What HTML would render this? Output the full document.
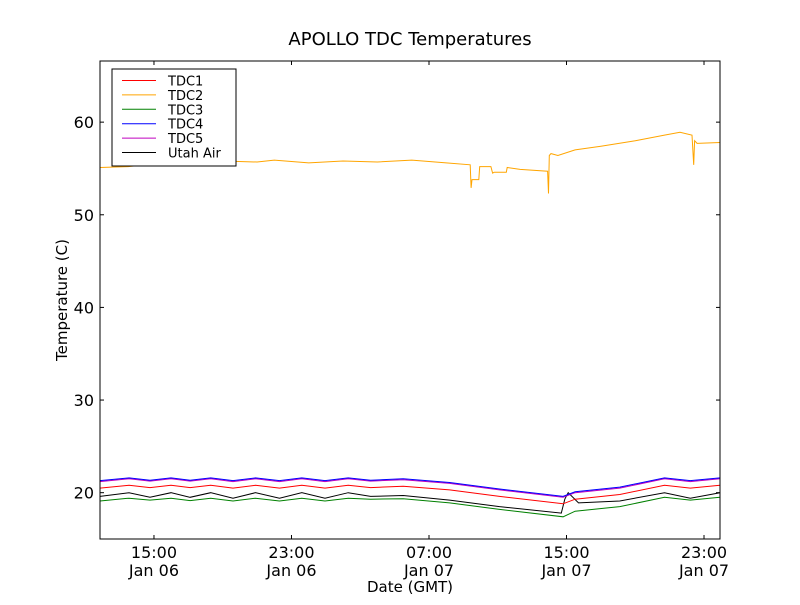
<!DOCTYPE html>
<html><head><meta charset="utf-8"><style>
body{margin:0;background:#fff;}
svg text{font-family:"DejaVu Sans","Liberation Sans",sans-serif;}
</style></head><body>
<svg id="chart" width="800" height="600" xmlns="http://www.w3.org/2000/svg">
<rect width="800" height="600" fill="#fff"/>
<text x="410" y="45" font-size="18" text-anchor="middle">APOLLO TDC Temperatures</text>
<g id="series"></g>
<rect x="100" y="61" width="620" height="478" fill="none" stroke="#000" stroke-width="1"/>
<g id="axes"></g>
<text x="410" y="592" font-size="15" text-anchor="middle">Date (GMT)</text>
<text transform="translate(67,300) rotate(-90)" font-size="15" text-anchor="middle">Temperature (C)</text>
<g>
<rect x="112" y="69" width="124" height="97" fill="#fff" stroke="#000"/>
<g id="legend"></g>
</g>
</svg>
<script>
const X0 = 11.86, X1 = 47.93, Y0 = 15, Y1 = 66.6;
const xTickHours = [15, 23, 31, 39, 47];
const xTickTimes = ["15:00", "23:00", "07:00", "15:00", "23:00"];
const xTickDates = ["Jan 06", "Jan 06", "Jan 07", "Jan 07", "Jan 07"];
const yTicks = [20, 30, 40, 50, 60];
const seriesNames = ["TDC1", "TDC2", "TDC3", "TDC4", "TDC5", "Utah Air"];
const seriesColors = ["#ff0000", "#ffa500", "#008000", "#0000ff", "#bf00bf", "#000000"];

const lowHours = [11.86,13.55,14.77,15.99,17.1,18.3,19.6,20.9,22.3,23.6,24.95,26.3,27.6,29.5,32.2,35.1,38.8,39.5,42.1,44.7,46.2,47.93];
const tdc4 = [21.3,21.6,21.35,21.6,21.35,21.6,21.3,21.6,21.3,21.6,21.3,21.6,21.35,21.5,21.1,20.4,19.6,20.1,20.6,21.6,21.3,21.6];
const tdc5 = [21.2,21.5,21.25,21.5,21.25,21.5,21.2,21.5,21.2,21.5,21.2,21.5,21.25,21.4,21.0,20.3,19.5,20.0,20.5,21.5,21.2,21.5];
const tdc1 = [20.5,20.8,20.55,20.8,20.55,20.8,20.5,20.8,20.5,20.8,20.5,20.8,20.55,20.7,20.3,19.6,18.8,19.3,19.8,20.8,20.5,20.8];
const tdc3 = [19.1,19.4,19.2,19.4,19.15,19.4,19.1,19.4,19.1,19.4,19.1,19.4,19.3,19.35,18.9,18.2,17.4,18.0,18.5,19.5,19.2,19.5];
const airHours = [11.86,13.55,14.77,15.99,17.1,18.3,19.6,20.9,22.3,23.6,24.95,26.3,27.6,29.5,32.2,35.1,38.7,38.9,39.1,39.7,42.1,44.7,46.2,47.93];
const air = [19.6,20.0,19.5,20.0,19.5,20.0,19.4,20.0,19.4,20.0,19.4,20.0,19.6,19.7,19.2,18.5,17.8,19.3,20.0,18.9,19.1,20.0,19.4,20.0];
const tdc2Hours = [11.86,13.5,15,17,19,21,22,24,26,28,30,32,33.4,33.45,33.5,33.9,33.95,34.6,34.7,34.8,35.5,35.55,36.3,37.9,37.95,38.0,38.1,38.5,39.5,41,43,44.7,45.6,46.3,46.4,46.45,46.6,47.93];
const tdc2 = [55.1,55.2,55.5,55.6,55.8,55.7,55.9,55.6,55.8,55.7,55.9,55.6,55.4,52.9,53.8,53.8,55.2,55.2,54.5,54.6,54.6,55.1,54.9,54.7,52.3,56.4,56.6,56.4,57.0,57.4,58.0,58.6,58.9,58.6,55.4,58.0,57.7,57.8];

const xs = h => 100 + (h - X0) / (X1 - X0) * 620;
const ys = v => 539 - (v - Y0) / (Y1 - Y0) * 478;
const NS = "http://www.w3.org/2000/svg";

function line(hours, vals, color, name) {
  const p = document.createElementNS(NS, "polyline");
  p.setAttribute("points", hours.map((h, i) => xs(h).toFixed(1) + "," + ys(vals[i]).toFixed(1)).join(" "));
  p.setAttribute("fill", "none");
  p.setAttribute("stroke", color);
  p.setAttribute("stroke-width", "1");
  
  
  document.getElementById("series").appendChild(p);
}
line(tdc2Hours, tdc2, seriesColors[1], "tdc2-line");
line(lowHours, tdc3, seriesColors[2], "tdc3-line");
line(airHours, air, seriesColors[5], "utah-air-line");
line(lowHours, tdc1, seriesColors[0], "tdc1-line");
line(lowHours, tdc5, seriesColors[4], "tdc5-line");
line(lowHours, tdc4, seriesColors[3], "tdc4-line");

const axes = document.getElementById("axes");
xTickHours.forEach((h, i) => {
  const x = xs(h);
  [[539, 535], [61, 65]].forEach(([a, b]) => {
    const t = document.createElementNS(NS, "line");
    t.setAttribute("x1", x); t.setAttribute("x2", x); t.setAttribute("y1", a); t.setAttribute("y2", b);
    t.setAttribute("stroke", "#000");
    
    
    axes.appendChild(t);
  });
  const tx = document.createElementNS(NS, "text");
  tx.setAttribute("x", x); tx.setAttribute("y", 558);
  tx.setAttribute("font-size", "16"); tx.setAttribute("text-anchor", "middle");
  tx.textContent = xTickTimes[i];
  
  
  axes.appendChild(tx);
  const td = document.createElementNS(NS, "text");
  td.setAttribute("x", x); td.setAttribute("y", 576);
  td.setAttribute("font-size", "16"); td.setAttribute("text-anchor", "middle");
  td.textContent = xTickDates[i];
  
  
  axes.appendChild(td);
});
yTicks.forEach(v => {
  const y = ys(v);
  [[100, 104], [720, 716]].forEach(([a, b]) => {
    const t = document.createElementNS(NS, "line");
    t.setAttribute("x1", a); t.setAttribute("x2", b); t.setAttribute("y1", y); t.setAttribute("y2", y);
    t.setAttribute("stroke", "#000");
    
    
    axes.appendChild(t);
  });
  const tx = document.createElementNS(NS, "text");
  tx.setAttribute("x", 94); tx.setAttribute("y", y + 6);
  tx.setAttribute("font-size", "16"); tx.setAttribute("text-anchor", "end");
  tx.textContent = v;
  
  
  axes.appendChild(tx);
});

const lg = document.getElementById("legend");
seriesNames.forEach((n, i) => {
  const y = 80.5 + i * 14.4;
  const l = document.createElementNS(NS, "line");
  l.setAttribute("x1", 122); l.setAttribute("x2", 156); l.setAttribute("y1", y); l.setAttribute("y2", y);
  l.setAttribute("stroke", seriesColors[i]);
  
  
  lg.appendChild(l);
  const t = document.createElementNS(NS, "text");
  t.setAttribute("x", 168); t.setAttribute("y", y + 5);
  t.setAttribute("font-size", "13");
  t.textContent = n;
  
  
  lg.appendChild(t);
});
</script>
</body></html>
